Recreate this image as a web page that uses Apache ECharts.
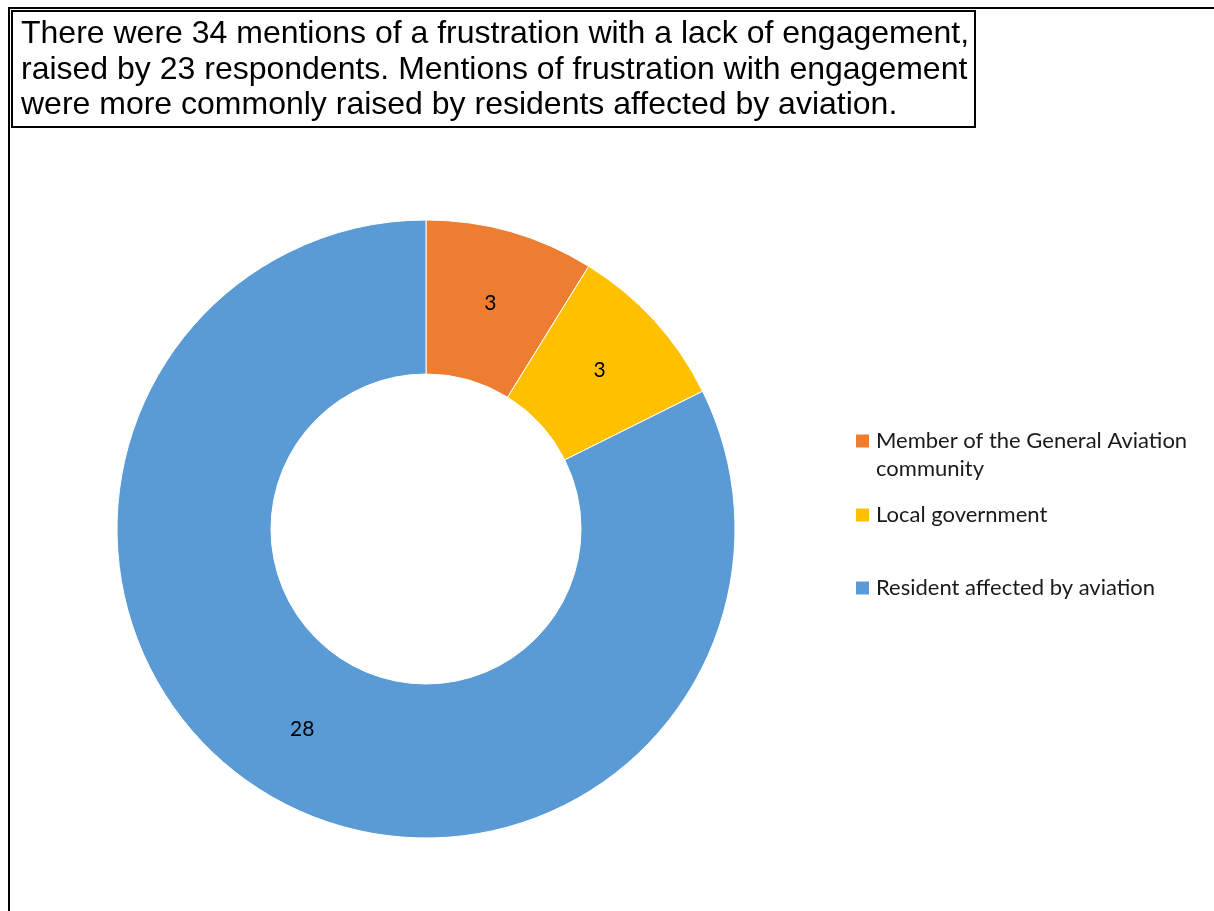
<!DOCTYPE html>
<html><head><meta charset="utf-8">
<script src="https://cdn.jsdelivr.net/npm/echarts@6/dist/echarts.min.js"></script>
<style>html,body{margin:0;padding:0;background:#fff}#c{width:1214px;height:911px}</style>
</head><body><div id="c"></div>
<script>
const categories = ['Member of the General Aviation community', 'Local government', 'Resident affected by aviation'];
const legendFirstLines = ['Member of the General Aviation', 'Local government', 'Resident affected by aviation'];
const legendExtraLine = 'community';
const values = [3, 3, 28];
const colors = ['#ED7D31', '#FFC000', '#5B9BD5'];
const titleLines = [
  'There were 34 mentions of a frustration with a lack of engagement,',
  'raised by 23 respondents. Mentions of frustration with engagement',
  'were more commonly raised by residents affected by aviation.'
];
const legendCenters = [441, 515, 588];

const chart = echarts.init(document.getElementById('c'), null, {renderer: 'canvas'});
const legendFont = {fontFamily: 'Lato', fontSize: 22, color: '#1a1a1a', lineHeight: 28, padding: [0, 0, 0, 2]};
const legends = categories.map((name, i) => ({
  data: [{name: name, icon: 'rect'}],
  left: 856, top: legendCenters[i] - 14, orient: 'vertical',
  itemWidth: 13, itemHeight: 13, itemGap: 0, padding: 0,
  itemStyle: {borderWidth: 0},
  formatter: () => legendFirstLines[i],
  textStyle: legendFont,
  selectedMode: false
}));
chart.setOption({
  animation: false,
  color: colors,
  legend: legends,
  graphic: [
    {type: 'rect', shape: {x: 9, y: 8, width: 1300, height: 1000}, style: {fill: 'none', stroke: '#000', lineWidth: 2}, z: 10},
    {type: 'rect', shape: {x: 12, y: 11, width: 963, height: 116}, style: {fill: '#fff', stroke: '#000', lineWidth: 2}, z: 10},
    ...titleLines.map((t, i) => ({type: 'text', x: 21, y: 34.5 + i * 35.5, z: 11,
      style: {text: t, fontFamily: 'Liberation Sans', fontSize: 32, fill: '#000', verticalAlign: 'middle'}})),
    {type: 'text', x: 876, y: 469, z: 11,
      style: {text: legendExtraLine, fontFamily: 'Lato', fontSize: 22, fill: '#1a1a1a', verticalAlign: 'middle'}}
  ],
  series: [{
    type: 'pie',
    center: [426, 529],
    radius: [155, 309],
    startAngle: 90,
    clockwise: true,
    avoidLabelOverlap: false,
    itemStyle: {borderColor: '#fff', borderWidth: 1},
    label: {show: true, position: 'inside', formatter: '{c}', fontFamily: 'Lato', fontSize: 21, color: '#000'},
    labelLine: {show: false},
    emphasis: {disabled: true},
    data: categories.map((n, i) => ({name: n, value: values[i]}))
  }]
});
</script></body></html>
